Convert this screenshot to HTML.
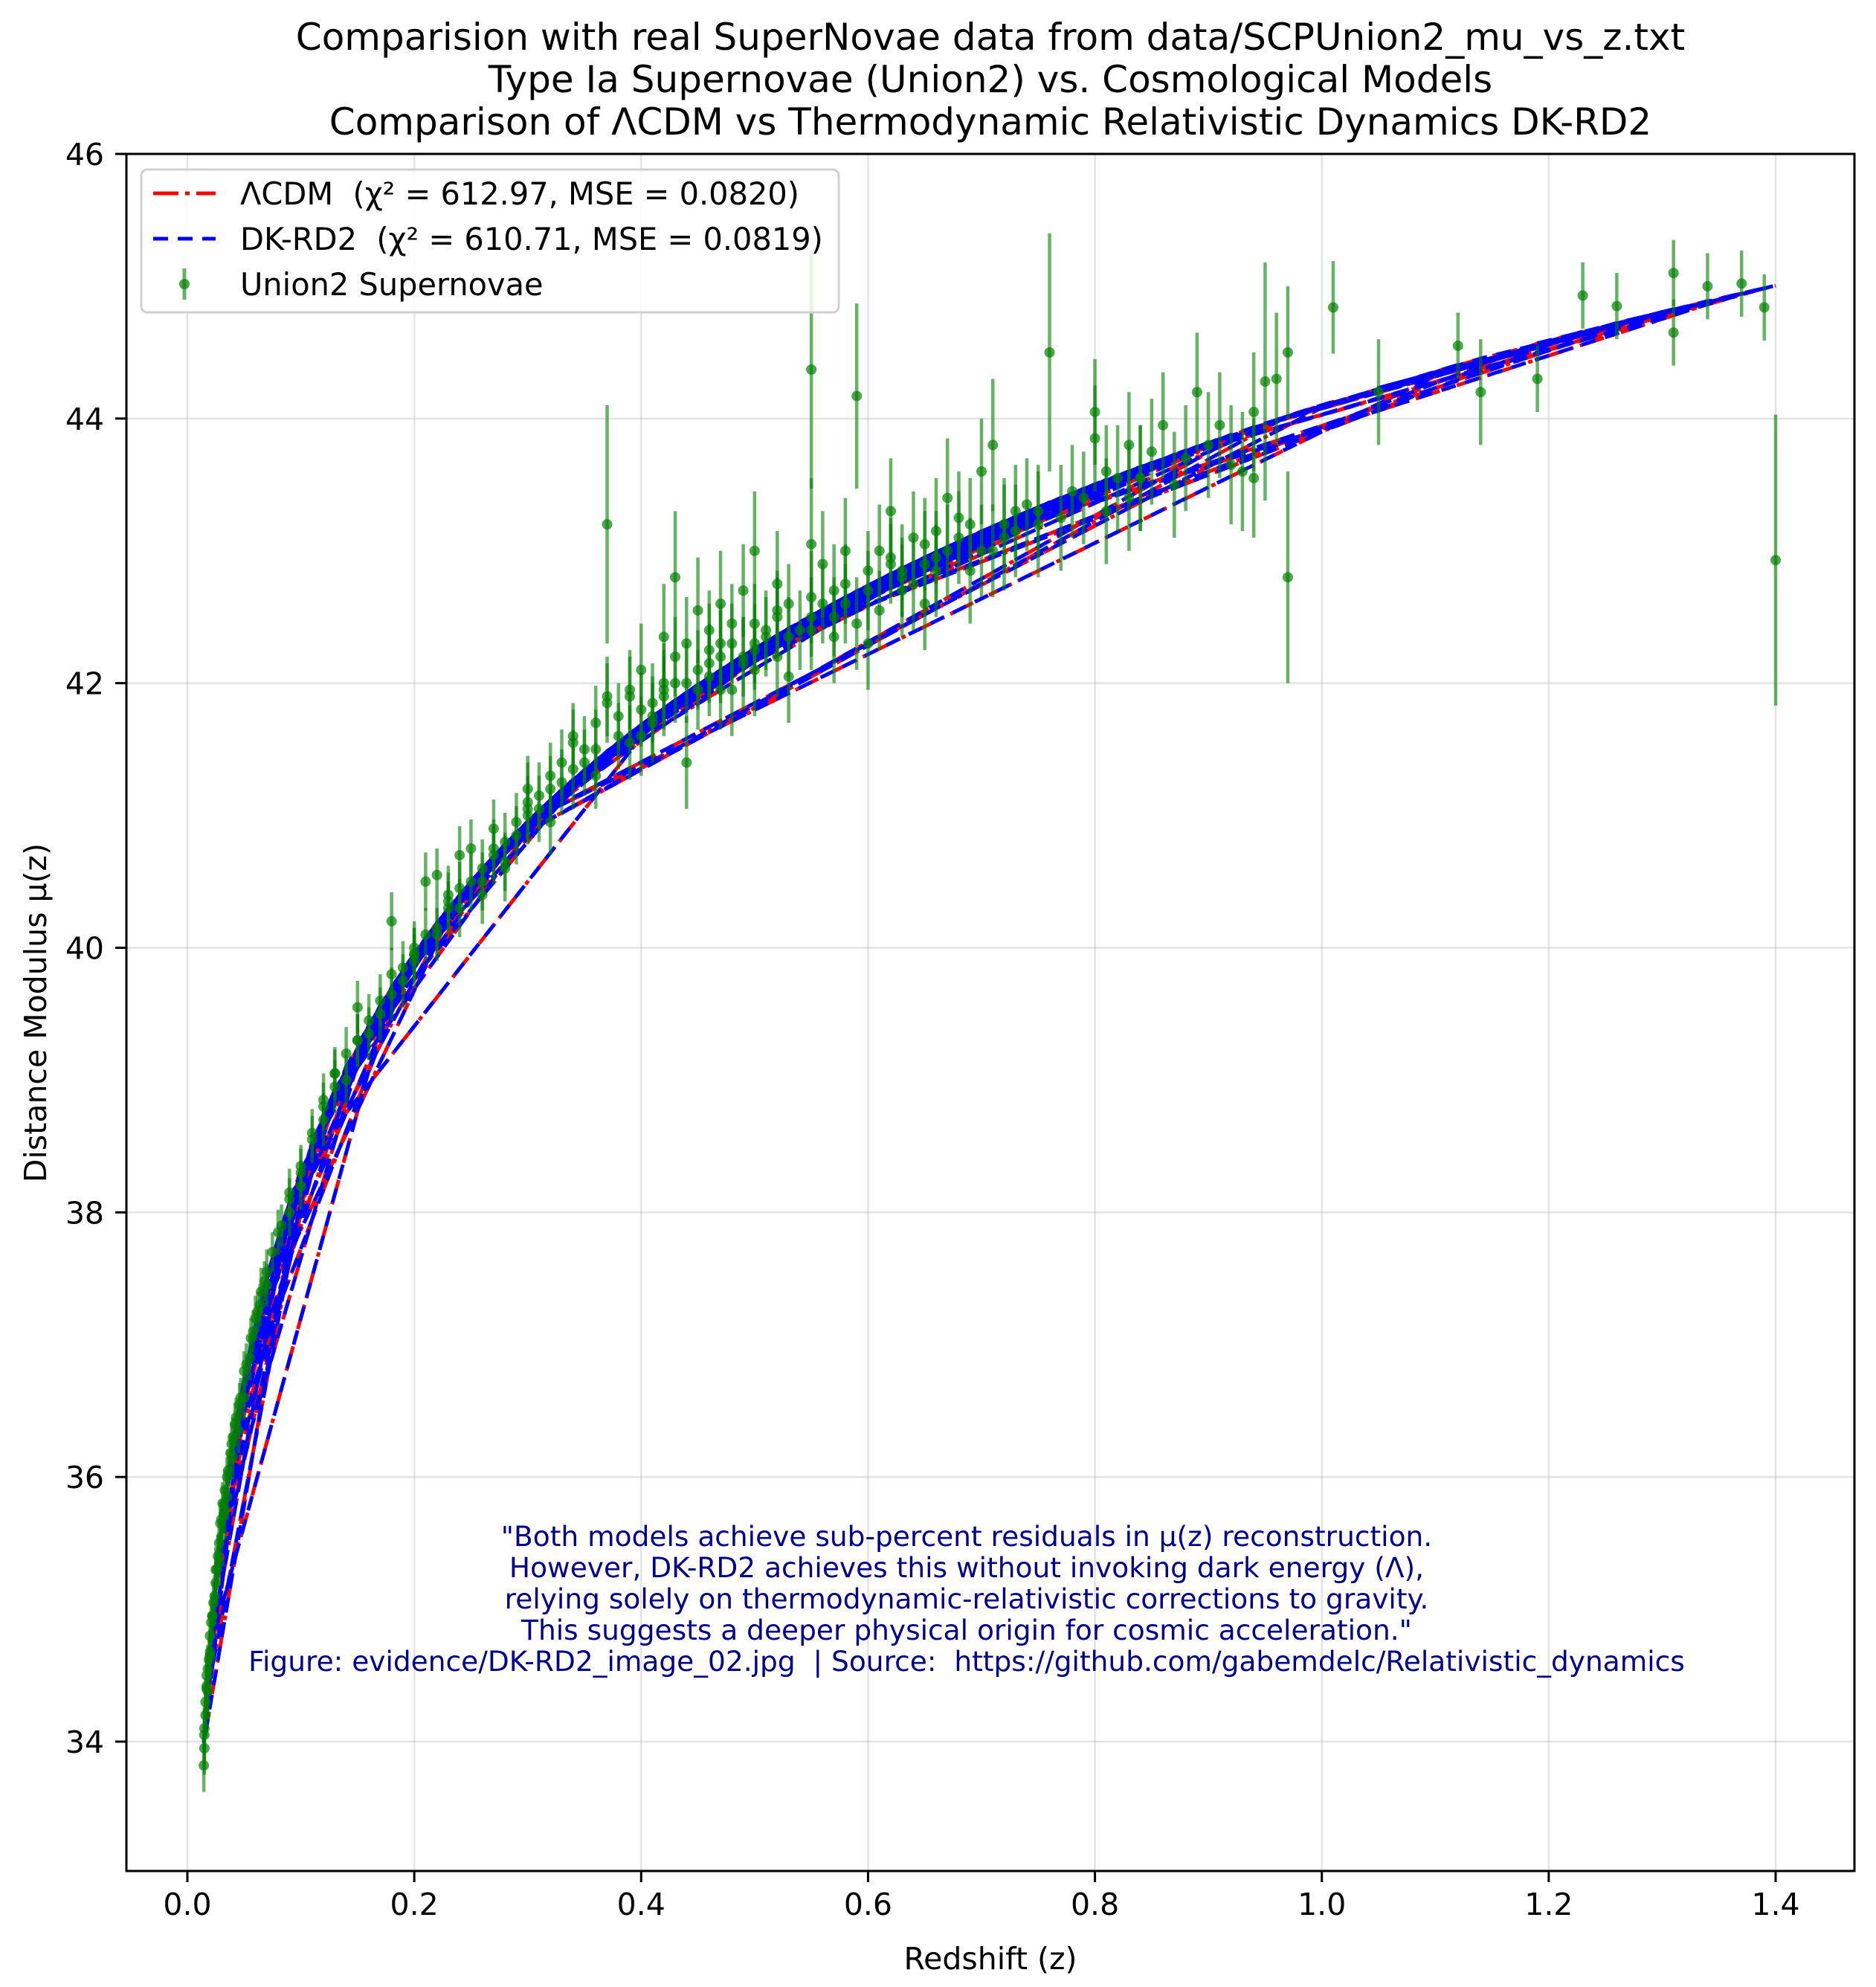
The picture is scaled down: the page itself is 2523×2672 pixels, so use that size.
<!DOCTYPE html>
<html><head><meta charset="utf-8"><style>
html,body{margin:0;padding:0;background:#fff;}
svg{display:block;font-family:"DejaVu Sans","Liberation Sans",sans-serif;}
svg text{white-space:pre;}
</style></head><body>
<svg id="chart" width="2523" height="2672" viewBox="0 0 2523 2672" xmlns="http://www.w3.org/2000/svg">
<rect x="0" y="0" width="2523" height="2672" fill="#fff"/>
<g font-size="50" text-anchor="middle" fill="#000">
<text x="1332" y="67">Comparision with real SuperNovae data from data/SCPUnion2_mu_vs_z.txt</text>
<text x="1332" y="124">Type Ia Supernovae (Union2) vs. Cosmological Models</text>
<text x="1332" y="181">Comparison of ΛCDM vs Thermodynamic Relativistic Dynamics DK-RD2</text>
</g>
<g id="grid"></g>
<g id="plot"></g>
<g id="axes"></g>
<text x="1332" y="2648" font-size="41" text-anchor="middle">Redshift (z)</text>
<text x="62" y="1362" font-size="41" text-anchor="middle" transform="rotate(-90 62 1362)">Distance Modulus μ(z)</text>
<g font-size="37.5" fill="#00008b" text-anchor="middle">
<text x="1300" y="2079">"Both models achieve sub-percent residuals in μ(z) reconstruction.</text>
<text x="1300" y="2121">However, DK-RD2 achieves this without invoking dark energy (Λ),</text>
<text x="1300" y="2163">relying solely on thermodynamic-relativistic corrections to gravity.</text>
<text x="1300" y="2205">This suggests a deeper physical origin for cosmic acceleration."</text>
<text x="1300" y="2247">Figure: evidence/DK-RD2_image_02.jpg &#160;| Source: &#160;https://github.com/gabemdelc/Relativistic_dynamics</text>
</g>
<g>
<rect x="190" y="228" width="938" height="192" rx="8" fill="#fff" fill-opacity="0.85" stroke="#d0d0d0" stroke-width="3"/>
<g>
<line x1="206" y1="260" x2="290" y2="260" stroke="#ff0000" stroke-width="5" stroke-dasharray="34,9,6,9"/>
<text x="323" y="275" font-size="41.5">ΛCDM &#160;(χ² = 612.97, MSE = 0.0820)</text>
</g>
<g>
<line x1="206" y1="321" x2="290" y2="321" stroke="#0000ff" stroke-width="5" stroke-dasharray="20,13"/>
<text x="323" y="336" font-size="41.5">DK-RD2 &#160;(χ² = 610.71, MSE = 0.0819)</text>
</g>
<g>
<line x1="248" y1="361" x2="248" y2="403" stroke="#008000" stroke-opacity="0.6" stroke-width="5"/>
<circle cx="248" cy="382" r="7" fill="#008000" fill-opacity="0.7"/>
<text x="323" y="397" font-size="41.5">Union2 Supernovae</text>
</g>
</g>
</svg>
<script>
const zLow=[0.015,0.016,0.017,0.018,0.02,0.021,0.023,0.025,0.026,0.028,0.03,0.032,0.035,0.038,0.04,0.043,0.047,0.05,0.056,0.062,0.068,0.075,0.083,0.09,0.1,
0.0145,0.015,0.016,0.017,0.018,0.019,0.02,0.022,0.024,0.027,0.029,0.031,0.033,0.036,0.039,0.042,0.046,0.052,0.058,0.064,0.07,
0.025,0.12,0.03,0.16,0.045,0.2,0.06,0.24,0.08,0.13,0.035,0.1,0.05,0.14,0.07,0.18,0.02,0.09,0.04,0.11,0.017,0.055,0.015,0.022,0.028,0.033,
0.065,0.13,0.09,0.17,0.11,0.21,0.15,0.24,0.12,0.19,0.26,0.14,0.22,0.28,0.18,0.23,0.3,0.16,0.25,0.32,0.2,0.27,0.35,0.21,0.29,0.38,0.24,0.31,0.4,0.26,0.33,0.42,0.1,0.22,0.36,0.15,0.27,0.34,0.2,0.3,0.13,0.25,0.37,0.18,0.28,0.39,0.23,0.32];
const muLow=[34.05,34.3,34.42,34.55,34.68,34.9,35.05,35.2,35.3,35.5,35.68,35.72,36.0,36.18,36.3,36.45,36.6,36.8,37.05,37.25,37.48,37.7,37.9,38.1,38.35,
33.82,34.1,34.2,34.5,34.38,34.62,34.8,34.95,35.1,35.4,35.65,35.8,35.9,36.05,36.25,36.4,36.55,36.85,37.1,37.3,37.45,
35.3,38.8,35.55,39.35,36.35,39.95,37.2,40.3,37.85,39.05,35.85,38.2,36.6,39.0,37.55,39.65,34.65,38.0,36.15,38.55,34.4,36.9,33.95,34.95,35.35,35.75,
37.4,38.95,38.15,39.6,38.6,40.1,39.3,40.45,38.85,39.85,40.6,39.2,40.55,40.8,40.2,40.3,41.0,39.45,40.5,41.2,39.95,40.75,41.5,40.5,40.95,41.75,40.7,41.05,41.8,40.4,41.4,42.0,38.3,40.15,41.3,39.55,40.9,41.6,40.0,41.2,39.05,40.75,41.9,39.8,40.65,41.55,40.4,40.95];
const errLow=[0.2,0.18,0.2,0.18,0.17,0.17,0.16,0.16,0.16,0.16,0.15,0.15,0.15,0.15,0.15,0.15,0.15,0.15,0.15,0.15,0.15,0.15,0.16,0.16,0.16,
0.2,0.17,0.17,0.17,0.17,0.17,0.17,0.16,0.16,0.16,0.16,0.16,0.16,0.16,0.16,0.16,0.16,0.16,0.16,0.16,0.16,
0.17,0.18,0.17,0.2,0.17,0.2,0.17,0.22,0.17,0.18,0.17,0.18,0.17,0.18,0.17,0.2,0.17,0.18,0.17,0.18,0.17,0.17,0.2,0.17,0.17,0.17,
0.18,0.2,0.18,0.2,0.18,0.2,0.2,0.2,0.2,0.2,0.22,0.2,0.2,0.22,0.22,0.2,0.22,0.2,0.22,0.25,0.2,0.22,0.25,0.22,0.22,0.25,0.22,0.25,0.28,0.22,0.25,0.3,0.18,0.2,0.25,0.2,0.22,0.25,0.2,0.25,0.2,0.22,0.3,0.2,0.22,0.28,0.22,0.25];
const zMid=[0.12,0.2,0.15,0.23,0.17,0.26,0.19,0.22,0.31,0.47,0.35,0.52,0.38,0.44,0.33,0.49,0.41,0.56,0.36,0.46,0.29,0.43,0.39,0.51,0.34,0.48,0.27,0.45,0.4,0.53,0.32,0.5,0.37,0.55,0.42,0.58,0.3,0.46,0.62,0.41,0.57,0.68,0.47,0.63,0.72,0.52,0.65,0.79,0.55,0.7,0.84,0.6,0.75,0.88,0.43,0.66,0.9,0.5,0.73,0.81];
const muMid=[38.7,39.9,39.3,40.35,39.5,40.5,39.75,40.1,41.15,42.3,41.4,42.55,41.6,42.0,41.25,42.2,41.85,42.6,41.7,42.4,40.85,42.2,41.9,42.35,41.55,42.45,40.7,41.95,42.1,42.6,41.3,42.3,41.85,42.5,41.95,42.75,41.05,42.15,42.95,41.7,42.5,43.1,41.95,42.8,43.2,42.2,43.05,43.4,42.4,43.0,43.55,42.7,43.3,43.7,42.0,42.85,43.8,42.45,43.15,43.3];
const errMid=[0.2,0.2,0.2,0.22,0.2,0.22,0.2,0.2,0.25,0.3,0.25,0.3,0.25,0.3,0.25,0.3,0.3,0.3,0.28,0.3,0.22,0.3,0.3,0.3,0.25,0.3,0.22,0.3,0.35,0.3,0.25,0.3,0.3,0.3,0.3,0.3,0.25,0.3,0.3,0.3,0.3,0.35,0.3,0.3,0.35,0.3,0.35,0.35,0.3,0.35,0.4,0.3,0.35,0.4,0.3,0.35,0.4,0.3,0.35,0.4];
const zHigh=[0.45,0.62,0.37,0.51,0.73,0.42,0.58,0.81,0.48,0.67,0.4,0.55,0.69,0.44,0.6,0.85,0.5,0.64,0.36,0.57,0.78,0.46,0.61,0.91,0.52,0.71,0.43,0.59,0.76,0.47,0.63,0.83,0.54,0.66,0.41,0.56,0.74,0.49,0.62,0.87,0.53,0.68,0.39,0.58,0.8,0.45,0.65,0.94,0.5,0.7,0.34,0.6,0.77,0.48,0.63,0.89,0.55,0.72,0.44,0.57,0.82,0.52,0.67,0.97,0.46,0.61,0.75,0.42,0.59,0.86,0.49,0.64,0.92,0.53,0.69,0.8,0.47,0.66,0.83,0.55,0.71,0.94,
0.28,0.97,1.01,0.3,1.12,0.95,1.23,0.5,1.19,1.31,0.65,1.37,0.84,1.39,1.26,0.93,1.31,1.05,1.34,0.96,1.14,1.4];
const muHigh=[42.1,42.9,43.2,42.4,43.3,41.9,42.6,43.6,42.3,43.0,41.6,44.37,43.2,42.3,42.85,43.75,42.25,43.1,41.5,42.7,43.45,42.05,42.55,43.95,42.5,43.0,42.8,44.17,44.5,42.2,42.7,43.8,42.4,42.95,41.75,42.9,43.35,42.7,43.3,43.5,42.35,43.25,41.95,43.0,43.85,42.55,42.6,44.05,43.0,43.6,41.35,42.3,43.25,41.95,42.85,44.2,42.65,43.1,41.4,42.35,43.55,42.75,43.4,44.5,42.25,43.0,43.2,42.35,42.45,43.95,42.15,42.75,43.65,42.05,42.85,44.05,42.6,43.15,43.4,43.05,43.8,43.55,
40.6,42.8,44.84,41.1,44.55,44.28,44.93,42.1,44.3,44.65,42.9,45.02,43.55,44.84,44.85,43.6,45.1,44.2,45.0,44.3,44.2,42.93];
const errHigh=[0.3,0.3,0.9,0.3,0.35,0.3,0.3,0.35,0.3,0.35,0.3,0.9,0.35,0.35,0.3,0.4,0.3,0.35,0.3,0.35,0.35,0.3,0.3,0.4,0.3,0.35,0.5,0.7,0.9,0.35,0.35,0.4,0.3,0.35,0.3,0.4,0.35,0.35,0.4,0.4,0.3,0.35,0.3,0.4,0.4,0.4,0.35,0.45,0.45,0.4,0.3,0.35,0.4,0.35,0.35,0.45,0.35,0.4,0.35,0.35,0.4,0.4,0.45,0.5,0.35,0.35,0.4,0.4,0.35,0.4,0.35,0.35,0.45,0.35,0.4,0.4,0.4,0.4,0.4,0.5,0.5,0.45,
0.25,0.8,0.35,0.3,0.25,0.9,0.25,0.35,0.25,0.25,0.4,0.25,0.4,0.25,0.25,0.45,0.25,0.4,0.25,0.5,0.4,1.1];
const zVals=zLow.concat(zMid,zHigh);
const muVals=muLow.concat(muMid,muHigh);
const errVals=errLow.concat(errMid,errHigh);
const xTicks=[0.0,0.2,0.4,0.6,0.8,1.0,1.2,1.4];
const yTicks=[34,36,38,40,42,44,46];
const lcdmParams=[70,0.3];
const dkrdParams=[70,0.299];

const NS="http://www.w3.org/2000/svg";
const X0=170,X1=2494,Y0=207,Y1=2516;
function xs(z){return 252+(z-0)*(2388-252)/1.4;}
function ys(m){return 2342-(m-34)*(2342-207)/12;}
function distMod(z,p){const H0=p[0],Om=p[1];const n=40,h=z/n;let s=0;
 for(let i=0;i<=n;i++){const t=i*h;const f=1/Math.sqrt(Om*Math.pow(1+t,3)+1-Om);s+=f*(i===0||i===n?1:(i%2?4:2));}
 const dc=299792.458/H0*s*h/3;return 5*Math.log10(dc*(1+z))+25;}
function mk(tag,attrs,parent){const e=document.createElementNS(NS,tag);for(const k in attrs)e.setAttribute(k,attrs[k]);parent.appendChild(e);return e;}
const grid=document.getElementById('grid'),plot=document.getElementById('plot'),axes=document.getElementById('axes');
xTicks.forEach(t=>{const gl=mk('line',{x1:xs(t),x2:xs(t),y1:Y0,y2:Y1,stroke:'#b0b0b0','stroke-opacity':0.35,'stroke-width':2.5},grid);
 
 });
yTicks.forEach(t=>{const gl=mk('line',{x1:X0,x2:X1,y1:ys(t),y2:ys(t),stroke:'#b0b0b0','stroke-opacity':0.35,'stroke-width':2.5},grid);
 
 });
const cp=mk('clipPath',{id:'clip'},plot);mk('rect',{x:X0,y:Y0,width:X1-X0,height:Y1-Y0},cp);
plot.setAttribute('clip-path','url(#clip)');
function modelPath(p){return zVals.map((z,i)=>(i?'L':'M')+xs(z).toFixed(1)+' '+ys(distMod(z,p)).toFixed(1)).join(' ');}
const lr=mk('path',{d:modelPath(lcdmParams),fill:'none',stroke:'#ff0000','stroke-width':5,'stroke-dasharray':'34,9,6,9','stroke-linejoin':'round'},plot);


const lb=mk('path',{d:modelPath(dkrdParams),fill:'none',stroke:'#0000ff','stroke-width':5,'stroke-dasharray':'20,13','stroke-linejoin':'round'},plot);


const pts=mk('g',{},plot);


zVals.forEach((z,i)=>{const x=xs(z),m=muVals[i],e=errVals[i];
 const eb=mk('line',{x1:x,x2:x,y1:ys(m-e),y2:ys(m+e),stroke:'#008000','stroke-opacity':0.6,'stroke-width':4.5},pts);
 
 
 const c=mk('circle',{cx:x,cy:ys(m),r:7,fill:'#008000','fill-opacity':0.7},pts);
 
 });
const fr=mk('rect',{x:X0,y:Y0,width:X1-X0,height:Y1-Y0,fill:'none',stroke:'#000','stroke-width':3},axes);


xTicks.forEach(t=>{const tk=mk('line',{x1:xs(t),x2:xs(t),y1:Y1,y2:Y1+15,stroke:'#000','stroke-width':3},axes);
 
 
 const tl=mk('text',{x:xs(t),y:Y1+59,'font-size':41,'text-anchor':'middle'},axes);tl.textContent=t.toFixed(1);
 
 });
yTicks.forEach(t=>{const tk=mk('line',{x1:X0-15,x2:X0,y1:ys(t),y2:ys(t),stroke:'#000','stroke-width':3},axes);
 
 
 const tl=mk('text',{x:X0-30,y:ys(t)+15,'font-size':41,'text-anchor':'end'},axes);tl.textContent=String(t);
 
 });
</script>
</body></html>
